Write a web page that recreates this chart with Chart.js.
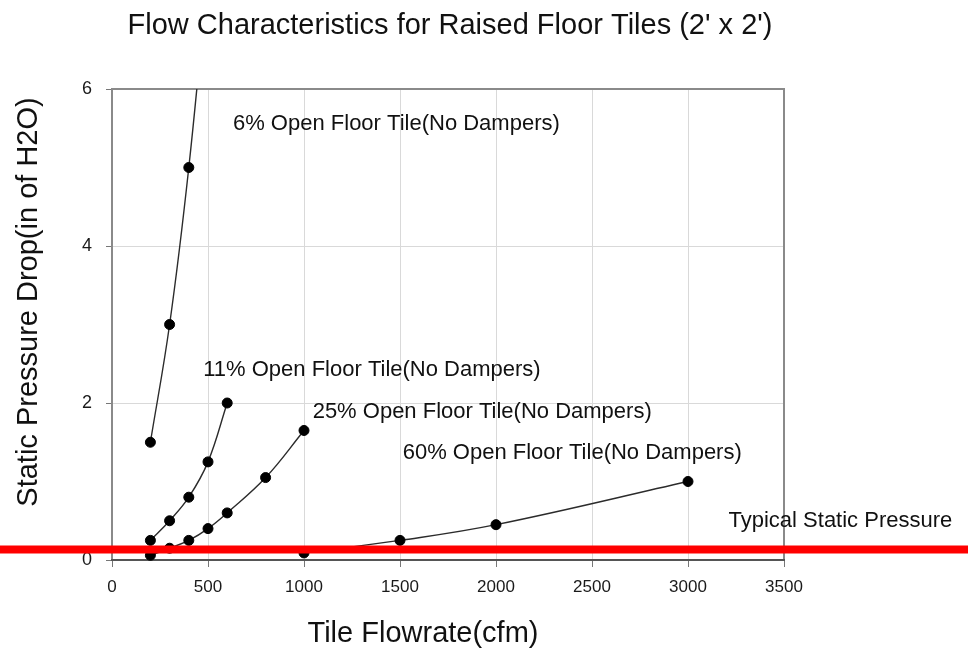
<!DOCTYPE html>
<html>
<head>
<meta charset="utf-8">
<title>Flow Characteristics for Raised Floor Tiles</title>
<script src="https://cdn.jsdelivr.net/npm/chart.js@4.4.0/dist/chart.umd.min.js"></script>
<style>
  html, body { margin: 0; padding: 0; background: #fff; }
</style>
</head>
<body>
<canvas id="chart" width="968" height="650"></canvas>
<script>
// tile flowrate (cfm) and static pressure drop (in of H2O), one pair per tile type
const flow6 = [200, 300, 400, 500];
const drop6 = [1.5, 3.0, 5.0, 7.5];
const flow11 = [200, 300, 400, 500, 600];
const drop11 = [0.25, 0.5, 0.8, 1.25, 2.0];
const flow25 = [200, 300, 400, 500, 600, 800, 1000];
const drop25 = [0.06, 0.15, 0.25, 0.4, 0.6, 1.05, 1.65];
const flow60 = [1000, 1500, 2000, 3000];
const drop60 = [0.09, 0.25, 0.45, 1.0];

const seriesNames = [
  '6% Open Floor Tile(No Dampers)',
  '11% Open Floor Tile(No Dampers)',
  '25% Open Floor Tile(No Dampers)',
  '60% Open Floor Tile(No Dampers)'
];
const typicalPressure = 0.133;
const typicalLabel = 'Typical Static Pressure';

const xTicks = [0, 500, 1000, 1500, 2000, 2500, 3000, 3500];
const yTicks = [0, 2, 4, 6];

const chartTitle = "Flow Characteristics for Raised Floor Tiles (2' x 2')";
const xTitle = 'Tile Flowrate(cfm)';
const yTitle = 'Static Pressure Drop(in of H2O)';

const FONT = '"Liberation Sans", Arial, sans-serif';

function pairs(xs, ys) {
  return xs.map((x, i) => ({ x: x, y: ys[i] }));
}

// where each curve's label sits, in data units (left edge, middle)
const labelSpots = [
  { x: 630, y: 5.56 },
  { x: 475, y: 2.42 },
  { x: 1045, y: 1.89 },
  { x: 1514, y: 1.37 }
];
const typicalSpot = { x: 3211, y: 0.50 };

const series = [[flow6, drop6], [flow11, drop11], [flow25, drop25], [flow60, drop60]];

const datasets = series.map((s, i) => ({
  label: seriesNames[i],
  data: pairs(s[0], s[1]),
  showLine: true,
  borderColor: '#2b2b2b',
  borderWidth: 1.4,
  tension: 0.4,
  pointRadius: 5,
  pointBorderWidth: 1,
  pointBorderColor: '#000',
  pointBackgroundColor: '#000',
  clip: { left: 8, top: 0, right: 8, bottom: 8 }
}));

// frame round the plot, red pressure band, labels and titles
const decor = {
  id: 'decor',
  beforeDatasetsDraw(chart) {
    const ctx = chart.ctx, a = chart.chartArea;
    ctx.save();
    ctx.strokeStyle = '#8a8a8a';
    ctx.lineWidth = 2;
    ctx.strokeRect(a.left, a.top, a.right - a.left, a.bottom - a.top);
    ctx.strokeStyle = '#555';
    ctx.beginPath();
    ctx.moveTo(a.left - 1, a.bottom);
    ctx.lineTo(a.right + 1, a.bottom);
    ctx.stroke();
    ctx.restore();
  },
  afterDatasetsDraw(chart) {
    const ctx = chart.ctx;
    const y = chart.scales.y.getPixelForValue(typicalPressure);
    ctx.save();
    ctx.strokeStyle = '#ff0000';
    ctx.lineWidth = 8;
    ctx.beginPath();
    ctx.moveTo(0, y);
    ctx.lineTo(chart.width, y);
    ctx.stroke();
    ctx.restore();
  },
  afterDraw(chart) {
    const ctx = chart.ctx, xs = chart.scales.x, ys = chart.scales.y;
    ctx.save();
    ctx.fillStyle = '#111';
    ctx.textBaseline = 'middle';
    ctx.textAlign = 'left';
    ctx.font = '22px ' + FONT;
    seriesNames.forEach((name, i) => {
      ctx.fillText(name, xs.getPixelForValue(labelSpots[i].x), ys.getPixelForValue(labelSpots[i].y));
    });
    ctx.fillText(typicalLabel, xs.getPixelForValue(typicalSpot.x), ys.getPixelForValue(typicalSpot.y));

    ctx.font = '29px ' + FONT;
    ctx.textAlign = 'center';
    ctx.textBaseline = 'alphabetic';
    ctx.fillText(chartTitle, 450, 34);
    ctx.fillText(xTitle, 423, 642);

    ctx.translate(29, 302);
    ctx.rotate(-Math.PI / 2);
    ctx.textBaseline = 'middle';
    ctx.fillText(yTitle, 0, 0);
    ctx.restore();
  }
};

new Chart(document.getElementById('chart'), {
  type: 'scatter',
  data: { datasets: datasets },
  options: {
    responsive: false,
    animation: false,
    layout: { padding: { left: 0, right: 184, top: 89, bottom: 0 } },
    plugins: {
      legend: { display: false },
      tooltip: { enabled: false }
    },
    scales: {
      x: {
        type: 'linear',
        min: 0,
        max: 3500,
        afterFit(scale) { scale.height = 90; },
        afterBuildTicks(scale) { scale.ticks = xTicks.map(v => ({ value: v })); },
        grid: { color: '#d9d9d9', lineWidth: 1, tickColor: '#777', tickLength: 7 },
        border: { display: false },
        ticks: {
          color: '#1a1a1a', font: { family: FONT, size: 17 }, padding: 10, maxRotation: 0,
          callback: v => String(v)
        }
      },
      y: {
        type: 'linear',
        min: 0,
        max: 6,
        afterFit(scale) { scale.width = 112; },
        afterBuildTicks(scale) { scale.ticks = yTicks.map(v => ({ value: v })); },
        grid: { color: '#d9d9d9', lineWidth: 1, tickColor: '#777', tickLength: 6 },
        border: { display: false },
        ticks: {
          color: '#1a1a1a', font: { family: FONT, size: 18 }, padding: 14,
          callback: v => String(v)
        }
      }
    }
  },
  plugins: [decor]
});
</script>
</body>
</html>
